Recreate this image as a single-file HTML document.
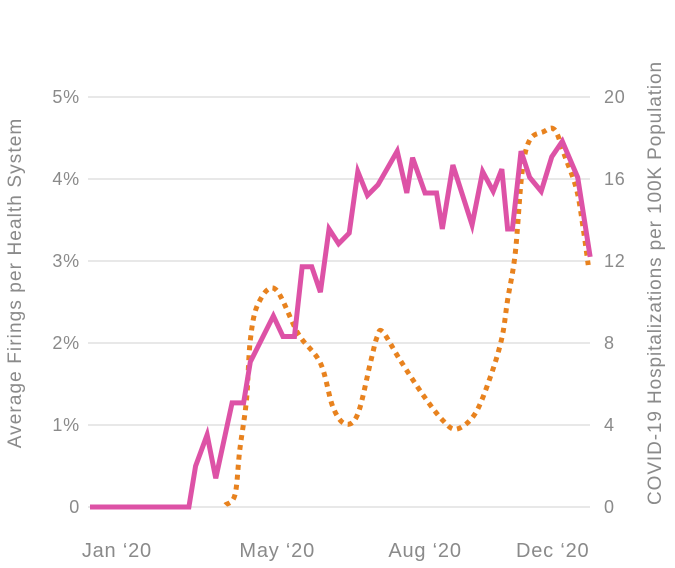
<!DOCTYPE html>
<html><head><meta charset="utf-8"><style>
html,body{margin:0;padding:0;background:#fff;}
svg{display:block;font-family:"Liberation Sans",sans-serif;}
</style></head><body>
<svg id="chart" width="675" height="568" viewBox="0 0 675 568"></svg>
<script>
const pinkWeeks=[0,10.3,11.0,12.2,13.1,14.8,16.0,16.7,19.1,20.1,21.3,22.1,23.1,24.0,24.9,25.9,27.0,27.9,28.9,30.0,32.0,33.0,33.6,34.9,36.1,36.7,37.8,39.8,40.9,42.0,42.9,43.5,44.0,44.9,45.8,47.0,48.1,49.2,50.8,52.1];
const pinkValues=[0,0,0.50,0.88,0.35,1.27,1.27,1.77,2.33,2.08,2.08,2.93,2.93,2.62,3.39,3.21,3.34,4.09,3.80,3.93,4.34,3.83,4.26,3.83,3.83,3.39,4.17,3.44,4.09,3.85,4.12,3.39,3.39,4.34,4.02,3.85,4.27,4.46,4.02,3.05];
const orangeWeeks=[14.1,15.1,15.6,16.3,16.7,17.5,19.3,21.7,24.0,25.3,26.6,27.9,29.2,29.9,30.5,32.3,34.7,36.8,38.2,40.1,41.7,42.9,43.5,44.3,45.0,45.8,47.2,48.4,49.5,50.7,51.4,51.9];
const orangeValues=[0.1,0.59,2.78,5.22,8.15,9.9,10.63,8.44,7.02,4.88,4.05,4.54,7.02,8.29,8.54,7.17,5.46,4.2,3.8,4.54,6.34,8.24,10.1,12.39,16.3,17.9,18.3,18.4,17.07,15.46,13.51,11.8];
const leftTicks=["0","1%","2%","3%","4%","5%"];
const rightTicks=["0","4","8","12","16","20"];
const xLabels=["Jan ‘20","May ‘20","Aug ‘20","Dec ‘20"];
const xLabelWeeks=[2.8,19.5,34.9,48.2];

const svg=document.getElementById('chart');
const NS='http://www.w3.org/2000/svg';
const x=w=>90+w*9.6;
const yL=v=>507-v*82;
const yR=v=>507-v*20.5;
function mk(t,a){const e=document.createElementNS(NS,t);for(const k in a)e.setAttribute(k,a[k]);svg.appendChild(e);return e;}

leftTicks.forEach((t,i)=>{
  const g=mk('line',{x1:88,x2:590,y1:yL(i),y2:yL(i),stroke:'#e0e0e0','stroke-width':1.5});
  
  
  const l=mk('text',{x:80,y:yL(i)+6,'text-anchor':'end','font-size':18,'letter-spacing':0.8,fill:'#8a8a8a'});l.textContent=t;
  
  
});
rightTicks.forEach((t,i)=>{
  const l=mk('text',{x:604,y:yR(i*4)+6,'font-size':18,'letter-spacing':0.8,fill:'#8a8a8a'});l.textContent=t;
  
  
});
xLabels.forEach((t,i)=>{
  const l=mk('text',{x:x(xLabelWeeks[i]),y:557,'text-anchor':'middle','font-size':20,'letter-spacing':0.8,fill:'#8a8a8a'});l.textContent=t;
  
  
});
const lt=mk('text',{transform:'translate(21,283) rotate(-90)','text-anchor':'middle','font-size':19,'letter-spacing':1.1,fill:'#8a8a8a'});
lt.textContent='Average Firings per Health System';


const rt=mk('text',{transform:'translate(661,283) rotate(-90)','text-anchor':'middle','font-size':19,'letter-spacing':0.9,fill:'#8a8a8a'});
rt.textContent='COVID-19 Hospitalizations per 100K Population';



const op=orangeWeeks.map((w,i)=>[x(w),yR(orangeValues[i])]);
let d='M'+op[0][0]+','+op[0][1];
for(let i=0;i<op.length-1;i++){
  const p0=op[i-1]||op[i],p1=op[i],p2=op[i+1],p3=op[i+2]||op[i+1];
  const c1=[p1[0]+(p2[0]-p0[0])/6,p1[1]+(p2[1]-p0[1])/6];
  const c2=[p2[0]-(p3[0]-p1[0])/6,p2[1]-(p3[1]-p1[1])/6];
  d+=` C${c1[0]},${c1[1]} ${c2[0]},${c2[1]} ${p2[0]},${p2[1]}`;
}
const o=mk('path',{d:d,fill:'none',stroke:'#e8821e','stroke-width':5,'stroke-dasharray':'5 5'});



const pp=pinkWeeks.map((w,i)=>x(w)+','+yL(pinkValues[i])).join(' ');
const p=mk('polyline',{points:pp,fill:'none',stroke:'#dd52a6','stroke-width':5,'stroke-linejoin':'miter'});


</script>
</body></html>
